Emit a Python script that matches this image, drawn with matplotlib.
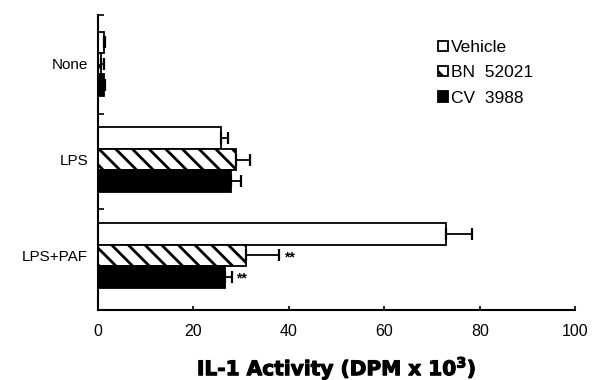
import matplotlib
matplotlib.use("Agg")
import matplotlib.pyplot as plt
import matplotlib.patheffects as pe
import numpy as np

categories = ["None", "LPS", "LPS+PAF"]
series = ["Vehicle", "BN  52021", "CV  3988"]
vehicle = [1.2, 25.8, 72.9]
vehicle_err = [0.3, 1.5, 5.5]
bn52021 = [0.6, 29.0, 31.0]
bn52021_err = [0.6, 2.9, 6.9]
cv3988 = [1.3, 27.9, 26.6]
cv3988_err = [0.2, 2.1, 1.4]
signif = [["", "", ""], ["", "", "**"], ["", "", "**"]]
xticks = [0, 20, 40, 60, 80, 100]

plt.rcParams['font.family'] = ['Liberation Sans', 'DejaVu Sans']
plt.rcParams['hatch.linewidth'] = 2.0

fig = plt.figure(figsize=(5.93, 3.80), dpi=100)
ax = fig.add_axes([0.165, 0.184, 0.805, 0.777])

vals = [vehicle, bn52021, cv3988]
errs = [vehicle_err, bn52021_err, cv3988_err]
faces = ["white", "white", "black"]
hatches = [None, "\\\\", None]
h = 0.224
y = np.arange(len(categories))
handles = []
for i in range(3):
    pos = y + (i - 1) * h
    b = ax.barh(pos, vals[i], height=h, color=faces[i], edgecolor="black",
                hatch=hatches[i], linewidth=1.3, label=series[i])
    handles.append(b)
    ax.errorbar(vals[i], pos, xerr=[np.zeros(3), errs[i]], fmt="none",
                ecolor="black", elinewidth=1.3, capsize=4, capthick=1.6)
    for j in range(3):
        if signif[i][j]:
            ax.text(vals[i][j] + errs[i][j] + 1.0, pos[j] + 0.02, signif[i][j],
                    va="center", ha="left", fontsize=10, fontweight="bold")

ax.set_xlim(0, 100)
ax.set_ylim(2.57, -0.51)
ax.set_xticks(xticks)
ax.set_xticklabels([str(t) for t in xticks], fontsize=11.5)
ax.set_yticks(y)
ax.set_yticklabels(categories, fontsize=11)
ax.tick_params(axis="y", length=0, pad=7)
ax.tick_params(axis="x", direction="in", length=3, width=1.2, pad=10)
ax.set_yticks([-0.51, 0.52, 1.52], minor=True)
ax.tick_params(axis="y", which="minor", direction="in", length=4, width=1.2)
for s in ["top", "right"]:
    ax.spines[s].set_visible(False)
for s in ["left", "bottom"]:
    ax.spines[s].set_linewidth(1.5)

xl = ax.set_xlabel("IL-1 Activity (DPM x 10$^{\\mathregular{3}}$)", fontsize=14.5,
                   fontweight="bold", labelpad=12, family=["DejaVu Sans"])
xl.set_path_effects([pe.withStroke(linewidth=0.8, foreground="black")])

leg = ax.legend(handles=handles, loc="upper left", bbox_to_anchor=(0.713, 0.915),
                frameon=False, fontsize=12.5, handlelength=0.55, handleheight=0.55,
                handletextpad=0.2, labelspacing=0.6, borderaxespad=0,
                borderpad=0)

fig.savefig("out.png", dpi=100)
